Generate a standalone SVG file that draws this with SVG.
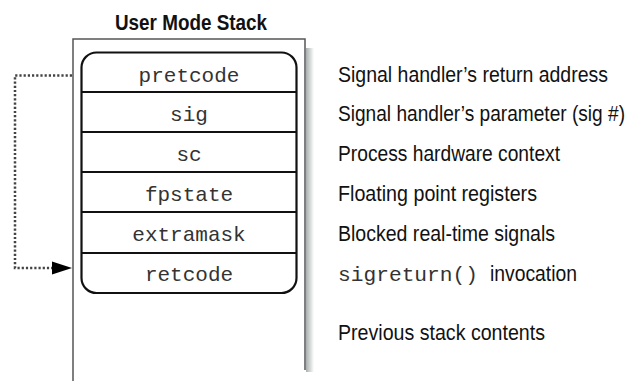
<svg xmlns="http://www.w3.org/2000/svg" width="633" height="381" viewBox="0 0 633 381">
<defs>
<linearGradient id="shadow" x1="0" y1="0" x2="1" y2="0">
<stop offset="0" stop-color="#a8aeae"/>
<stop offset="1" stop-color="#ffffff"/>
</linearGradient>
<style>
.mono{font-family:"Liberation Mono","DejaVu Sans Mono",monospace;font-size:21px;fill:#333;}
.lab{font-family:"Liberation Sans",Arial,sans-serif;font-size:22px;fill:#111;}
.title{font-family:"Liberation Sans",Arial,sans-serif;font-size:22px;font-weight:bold;fill:#111;}
.div{stroke:#111;stroke-width:2;}
.outer{stroke:#555;stroke-width:1.5;fill:none;}
.dot{stroke:#444;stroke-width:2.5;fill:none;stroke-dasharray:2.2 2;}
</style>
</defs>
<rect width="633" height="381" fill="#fff"/>
<g id="title"><text class="title" x="191" y="29.5" text-anchor="middle" textLength="152" lengthAdjust="spacingAndGlyphs">User Mode Stack</text></g>
<g id="stack">
<rect x="306" y="48" width="8" height="324" fill="url(#shadow)"/>
<path class="outer" d="M73,381 L73,39 L305,39 L305,370"/>
</g>
<g id="frame">
<rect x="81.5" y="52.5" width="215" height="240.5" rx="15" ry="15" fill="none" stroke="#111" stroke-width="2.2"/>
</g>
<g id="pretcode"><line class="div" x1="81.5" y1="92" x2="296.5" y2="92"/><text class="mono" x="189" y="82" text-anchor="middle">pretcode</text></g>
<g id="sig"><line class="div" x1="81.5" y1="132" x2="296.5" y2="132"/><text class="mono" x="189" y="121" text-anchor="middle">sig</text></g>
<g id="sc"><line class="div" x1="81.5" y1="172" x2="296.5" y2="172"/><text class="mono" x="189" y="161" text-anchor="middle">sc</text></g>
<g id="fpstate"><line class="div" x1="81.5" y1="212" x2="296.5" y2="212"/><text class="mono" x="189" y="201" text-anchor="middle">fpstate</text></g>
<g id="extramask"><line class="div" x1="81.5" y1="253" x2="296.5" y2="253"/><text class="mono" x="189" y="241" text-anchor="middle">extramask</text></g>
<g id="retcode"><text class="mono" x="189" y="281" text-anchor="middle">retcode</text></g>
<g id="labels">
<text class="lab" x="338" y="82" textLength="270" lengthAdjust="spacingAndGlyphs">Signal handler’s return address</text>
<text class="lab" x="338" y="121" textLength="287" lengthAdjust="spacingAndGlyphs">Signal handler’s parameter (sig #)</text>
<text class="lab" x="338" y="161" textLength="222" lengthAdjust="spacingAndGlyphs">Process hardware context</text>
<text class="lab" x="338" y="201" textLength="199" lengthAdjust="spacingAndGlyphs">Floating point registers</text>
<text class="lab" x="338" y="241" textLength="217" lengthAdjust="spacingAndGlyphs">Blocked real-time signals</text>
<text class="mono" x="338" y="281" textLength="140" lengthAdjust="spacingAndGlyphs">sigreturn()</text>
<text class="lab" x="490" y="281" textLength="87" lengthAdjust="spacingAndGlyphs">invocation</text>
<text class="lab" x="338" y="340" textLength="207" lengthAdjust="spacingAndGlyphs">Previous stack contents</text>
</g>
<g id="connectors">
<path class="dot" d="M72,75.5 L15,75.5 L15,268 L54,268" />
<path d="M52,261.5 L72,268 L52,274.5 Z" fill="#000"/>
</g>
</svg>
